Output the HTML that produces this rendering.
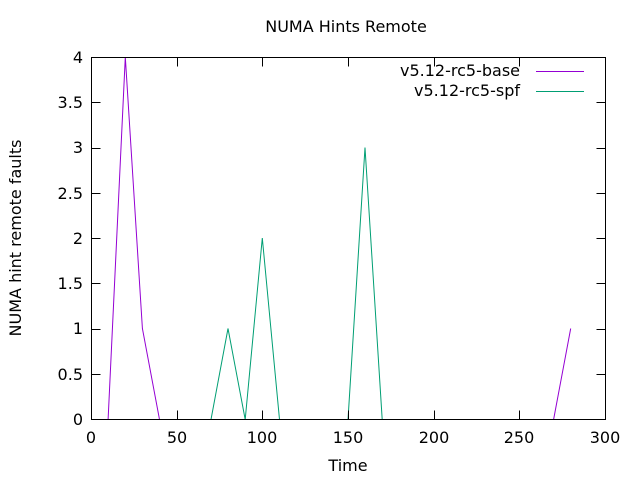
<!DOCTYPE html>
<html><head><style>body{margin:0;background:#fff}svg{display:block}text{font-family:"DejaVu Sans",sans-serif;font-size:16px;fill:#000}</style></head>
<body>
<svg width="640" height="480" viewBox="0 0 640 480">
<rect width="640" height="480" fill="#fff"/>
<polyline fill="none" stroke="#9400d3" points="108.1,419.5 125.3,57 142.4,328.5 159.5,419.5 553.6,419.5 570.7,328.5"/>
<polyline fill="none" stroke="#009e73" points="211,419.5 228,328.5 245.2,419.5 262.3,238 279.5,419.5 348,419.5 365,147.5 382.2,419.5"/>
<g stroke="#000" stroke-width="1">
<rect x="91.5" y="57.5" width="514" height="362" fill="none"/>
<path d="M91.5 419.5h9M605.5 419.5h-9M91.5 374.5h9M605.5 374.5h-9M91.5 329.5h9M605.5 329.5h-9M91.5 283.5h9M605.5 283.5h-9M91.5 238.5h9M605.5 238.5h-9M91.5 193.5h9M605.5 193.5h-9M91.5 148.5h9M605.5 148.5h-9M91.5 102.5h9M605.5 102.5h-9M91.5 57.5h9M605.5 57.5h-9"/>
<path d="M91.5 419.5v-9M91.5 57.5v9M177.5 419.5v-9M177.5 57.5v9M262.5 419.5v-9M262.5 57.5v9M348.5 419.5v-9M348.5 57.5v9M434.5 419.5v-9M434.5 57.5v9M519.5 419.5v-9M519.5 57.5v9M605.5 419.5v-9M605.5 57.5v9"/>
</g>
<g text-anchor="end">
<text x="83" y="425">0</text><text x="83" y="380">0.5</text><text x="83" y="334">1</text><text x="83" y="289">1.5</text><text x="83" y="244">2</text><text x="83" y="199">2.5</text><text x="83" y="153">3</text><text x="83" y="108">3.5</text><text x="83" y="63">4</text>
</g>
<g text-anchor="middle">
<text x="91" y="443">0</text><text x="177" y="443">50</text><text x="262" y="443">100</text><text x="348" y="443">150</text><text x="434" y="443">200</text><text x="519" y="443">250</text><text x="605" y="443">300</text>
<text x="348" y="471">Time</text>
<text x="346" y="32">NUMA Hints Remote</text>
<text transform="translate(21,238) rotate(-90)">NUMA hint remote faults</text>
</g>
<text x="520" y="76" text-anchor="end">v5.12-rc5-base</text>
<text x="520" y="96" text-anchor="end">v5.12-rc5-spf</text>
<line x1="536" y1="71.5" x2="584" y2="71.5" stroke="#9400d3"/>
<line x1="536" y1="91.5" x2="584" y2="91.5" stroke="#009e73"/>
</svg>
</body></html>
